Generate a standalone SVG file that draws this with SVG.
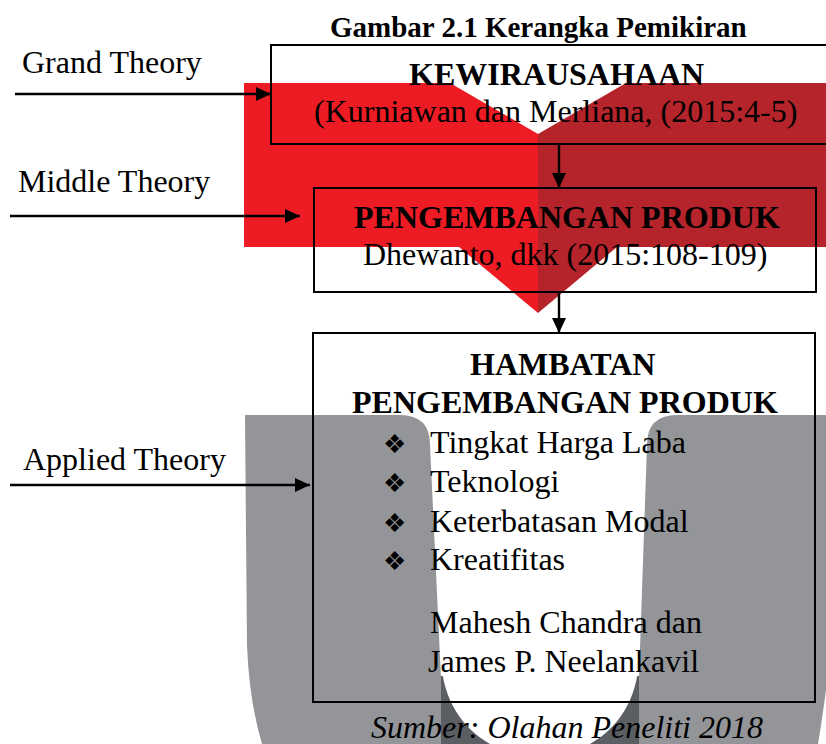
<svg xmlns="http://www.w3.org/2000/svg" width="826" height="744" viewBox="0 0 826 744">
<style>
  text { font-family: "Liberation Serif", "Times New Roman", serif; font-size: 32px; fill: #000; }
  .b { font-weight: bold; }
  .it { font-style: italic; }
  .title { font-size: 29px; font-weight: bold; }
  .bul { font-family: "DejaVu Sans", sans-serif; font-size: 26px; }
  .box { fill: none; stroke: #000; stroke-width: 2; }
  .conn line { stroke: #000; stroke-width: 2.4; }
</style>
<defs>
  <marker id="ah" markerUnits="userSpaceOnUse" markerWidth="16" markerHeight="16" refX="15" refY="8" orient="auto">
    <path d="M0,1 L15,8 L0,15 Z" fill="#000"/>
  </marker>
</defs>
<rect width="826" height="744" fill="#fff"/>

<!-- watermark -->
<g id="watermark">
  <polygon points="244,83 450,83 538,134 538,313 459,247 244,247" fill="#ED1C24"/>
  <polygon points="538,134 626,83 826,83 826,247 617,247 538,313" fill="#B5232B"/>
  <path d="M245,415 H400 Q430,415 430,445 L441,678 H639 L647,445 Q647,415 677,415 H826 V690 Q822,720 818,744 H262 Q249,700 247,645 Z" fill="#939598"/>
  <rect x="441" y="676" width="198" height="68" fill="#5B5E63"/>
  <path d="M441,660 C443,700 462,728 490,744 L590,744 C618,728 637,700 639,660 Z" fill="#fff"/>
</g>

<text class="title" x="330" y="37">Gambar 2.1 Kerangka Pemikiran</text>

<g id="labels">
  <text x="22" y="73">Grand Theory</text>
  <text x="18" y="192">Middle Theory</text>
  <text x="23" y="470">Applied Theory</text>
</g>

<g id="node-kewirausahaan">
  <rect class="box" x="271" y="45" width="560" height="99"/>
  <text class="b" x="409" y="85">KEWIRAUSAHAAN</text>
  <text x="314" y="122">(Kurniawan dan Merliana, (2015:4-5)</text>
</g>

<g id="node-pengembangan">
  <rect class="box" x="314" y="188" width="502" height="104"/>
  <text class="b" x="354" y="228">PENGEMBANGAN PRODUK</text>
  <text x="363" y="265">Dhewanto, dkk (2015:108-109)</text>
</g>

<g id="node-hambatan">
  <rect class="box" x="313" y="333" width="502" height="369"/>
  <text class="b" x="470" y="375">HAMBATAN</text>
  <text class="b" x="352" y="413">PENGEMBANGAN PRODUK</text>
  <text class="bul" x="383" y="453">❖</text>
  <text x="430" y="453">Tingkat Harga Laba</text>
  <text class="bul" x="383" y="492">❖</text>
  <text x="430" y="492">Teknologi</text>
  <text class="bul" x="383" y="532">❖</text>
  <text x="430" y="532">Keterbatasan Modal</text>
  <text class="bul" x="383" y="570">❖</text>
  <text x="430" y="570">Kreatifitas</text>
  <text x="430" y="633">Mahesh Chandra dan</text>
  <text x="428" y="672">James P. Neelankavil</text>
</g>

<g id="connectors" class="conn">
  <line x1="15" y1="94" x2="271" y2="94" marker-end="url(#ah)"/>
  <line x1="10" y1="216" x2="300" y2="216" marker-end="url(#ah)"/>
  <line x1="10" y1="485" x2="310" y2="485" marker-end="url(#ah)"/>
  <line x1="559" y1="145" x2="559" y2="188" marker-end="url(#ah)"/>
  <line x1="559" y1="293" x2="559" y2="333" marker-end="url(#ah)"/>
</g>

<text class="it" x="371" y="738">Sumber: Olahan Peneliti 2018</text>
</svg>
